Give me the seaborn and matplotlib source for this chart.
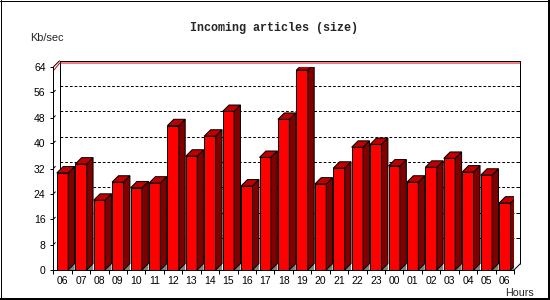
import numpy as np
import pandas as pd
import matplotlib
matplotlib.use("Agg")
import matplotlib.pyplot as plt
import seaborn as sns
from matplotlib.patches import Polygon
from matplotlib.lines import Line2D

hours = ["06", "07", "08", "09", "10", "11", "12", "13", "14", "15", "16", "17",
         "18", "19", "20", "21", "22", "23", "00", "01", "02", "03", "04", "05", "06"]
kb_per_sec = [30.6, 33.4, 22.0, 27.7, 25.9, 27.4, 45.5, 35.9, 42.2, 50.0, 26.5, 35.5,
              47.5, 63.0, 27.1, 32.1, 38.7, 39.6, 32.8, 27.7, 32.4, 35.2, 30.9, 29.9, 21.1]
y_ticks = [0, 8, 16, 24, 32, 40, 48, 56, 64]
title = "Incoming articles (size)"
y_label = "Kb/sec"
x_label = "Hours"

sns.set_style("white")
plt.rcParams['font.family'] = ['Liberation Sans', 'DejaVu Sans']

W, H = 550, 300
fig = plt.figure(figsize=(5.5, 3), dpi=100)
fig.patch.set_facecolor("white")
x0px, x1px, y0px, y1px = 53.3, 514.0, 270.0, 67.0
ax = fig.add_axes([x0px / W, 1 - y0px / H, (x1px - x0px) / W, (y0px - y1px) / H])
ax.set_facecolor("none")

df = pd.DataFrame({"slot": list(range(len(kb_per_sec))), "kb": kb_per_sec})
sns.barplot(data=df, x="slot", y="kb", color="#ff0000", saturation=1, width=0.62,
            edgecolor="black", linewidth=0.72, ax=ax, zorder=3)
n = len(kb_per_sec)
ax.set_xlim(-0.5, n - 0.5)
ax.set_ylim(0, 64)
ax.set_xlabel("")
ax.set_ylabel("")
for s in ["top", "right"]:
    ax.spines[s].set_visible(False)
for s in ["left", "bottom"]:
    ax.spines[s].set_linewidth(0.72)
    ax.spines[s].set_color("black")
    ax.spines[s].set_zorder(4)

px_x = (x1px - x0px) / n
px_y = (y0px - y1px) / 64
dx = 6.4 / px_x
dy = 6.4 / px_y

bars = list(ax.patches)
for b in bars:
    bx0 = b.get_x()
    bx1 = bx0 + b.get_width()
    h = b.get_height()
    b.set_zorder(3)
    ax.add_patch(Polygon([(bx1, 0), (bx1 + dx, dy), (bx1 + dx, 0)], closed=True,
                         fc="#808080", ec="none", zorder=2.5))
    ax.add_patch(Polygon([(bx1, 0), (bx1 + dx, dy), (bx1 + dx, h + dy), (bx1, h)], closed=True,
                         fc="#800000", ec="black", lw=0.72, zorder=3))
    ax.add_patch(Polygon([(bx0, h), (bx0 + dx, h + dy), (bx1 + dx, h + dy), (bx1, h)], closed=True,
                         fc="#c00000", ec="black", lw=0.72, zorder=3))

bl = -0.5 + dx
br = n - 0.5 + dx
topv = 64 + dy
lk = dict(color="black", lw=0.72, clip_on=False, solid_capstyle="butt")
ax.plot([bl, bl, br, br], [dy, topv, topv, dy], zorder=1, **lk)
ax.plot([-0.5, bl], [64, topv], zorder=1, **lk)
ax.plot([n - 0.5, br], [0, dy], zorder=1, **lk)
ax.plot([-0.46, bl, br - 0.03], [63.05, topv - 0.76, topv - 0.76], color="#e00000", lw=0.72,
        clip_on=False, zorder=1.2)
for v in y_ticks[1:-1]:
    ax.plot([bl, br], [v + dy, v + dy], color="black", lw=0.72, ls=(0, (2.7, 2.0)),
            clip_on=False, zorder=1)
    ax.plot([-0.5, -0.5 + dx * 0.35], [v, v + dy * 0.35], zorder=1, **lk)
    ax.plot([br - 3 / px_x, br], [v + dy, v + dy], zorder=1, **lk)

ax.set_yticks(y_ticks)
ax.set_yticklabels([str(v) for v in y_ticks])
ax.tick_params(axis="y", direction="out", length=2.2, width=0.72, pad=3.4,
               labelsize=7.5, colors="black", left=True)
ax.set_xticks(range(n))
ax.set_xticklabels(hours)
ax.set_xticks(np.arange(-0.5, n, 1), minor=True)
ax.tick_params(axis="x", which="major", length=0, pad=4.2, labelsize=7.5, colors="black")
ax.tick_params(axis="x", which="minor", direction="out", length=2.6, width=0.72,
               colors="black", bottom=True)

fig.text(273.7 / W, 1 - 31 / H, title, ha="center", va="baseline",
         family=["Liberation Mono", "DejaVu Sans Mono"], fontweight="bold", fontsize=8.5)
fig.text(30 / W, 1 - 40.7 / H, y_label, ha="left", va="baseline", fontsize=7.9)
fig.text(505 / W, 1 - 295.5 / H, x_label, ha="left", va="baseline", fontsize=7.7)

tf = fig.transFigure
fig.add_artist(Line2D([0.5 / W, 0.5 / W], [0, 1], color="black", lw=0.72, transform=tf))
fig.add_artist(Line2D([0, 1], [1 - 0.5 / H, 1 - 0.5 / H], color="black", lw=0.72, transform=tf))
fig.add_artist(Line2D([549 / W, 549 / W], [0, 1], color="black", lw=1.44, transform=tf))
fig.add_artist(Line2D([0, 1], [1 / H, 1 / H], color="black", lw=1.44, transform=tf))

fig.savefig("out.png", dpi=100)
